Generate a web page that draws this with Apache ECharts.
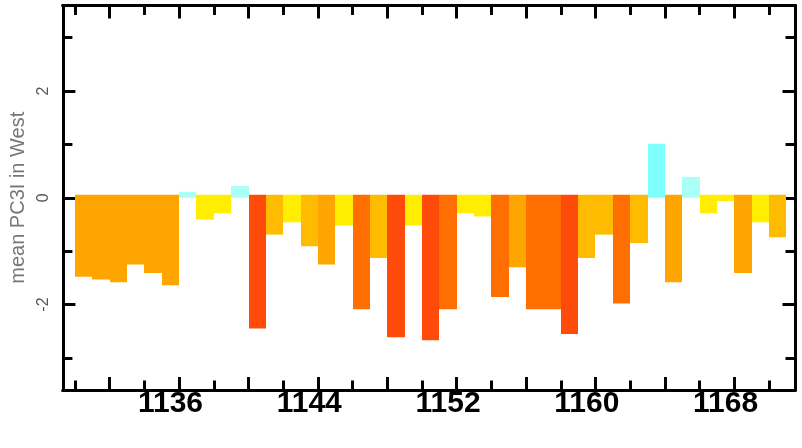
<!DOCTYPE html>
<html>
<head>
<meta charset="utf-8">
<script src="https://cdn.jsdelivr.net/npm/echarts@6/dist/echarts.min.js"></script>
<style>
  html, body { margin: 0; padding: 0; background: #fff; }
  #chart { width: 802px; height: 448px; }
</style>
</head>
<body>
<div id="chart"></div>
<script>
// years (one bar per year)
const years = [
  1131, 1132, 1133, 1134, 1135, 1136, 1137, 1138, 1139, 1140,
  1141, 1142, 1143, 1144, 1145, 1146, 1147, 1148, 1149, 1150,
  1151, 1152, 1153, 1154, 1155, 1156, 1157, 1158, 1159, 1160,
  1161, 1162, 1163, 1164, 1165, 1166, 1167, 1168, 1169, 1170, 1171
];
// mean PC3I in West
const values = [
  -1.48, -1.53, -1.58, -1.25, -1.41, -1.64, 0.11, -0.41, -0.29, 0.22,
  -2.45, -0.69, -0.46, -0.91, -1.25, -0.52, -2.09, -1.13, -2.61, -0.52,
  -2.67, -2.09, -0.29, -0.35, -1.86, -1.30, -2.09, -2.09, -2.55, -1.13,
  -0.69, -1.98, -0.85, 1.01, -1.58, 0.39, -0.29, -0.06, -1.41, -0.46, -0.74
];
// tick labels and tick positions
const xLabelYears = [1136, 1144, 1152, 1160, 1168];
const xLongTicks = [1132.5, 1136.5, 1140.5, 1144.5, 1148.5, 1152.5, 1156.5, 1160.5, 1164.5, 1168.5];
const xShortTicks = [1130.5, 1134.5, 1138.5, 1142.5, 1146.5, 1150.5, 1154.5, 1158.5, 1162.5, 1166.5, 1170.5];
const yLabelValues = [-2, 0, 2];
const yShortTicks = [-3, -1, 1, 3];

const chart = echarts.init(document.getElementById("chart"));

const X_MIN = 1129.8;
const X_MAX = 1172;
const Y_MIN = -3.6;
const Y_MAX = 3.6;

function xAxisOf(position, ticks, len, withLabel) {
  return {
    type: "value",
    position: position,
    min: X_MIN,
    max: X_MAX,
    axisLine: { show: true, onZero: false, lineStyle: { color: "#000", width: 3 } },
    axisTick: {
      show: true,
      inside: true,
      length: len,
      customValues: ticks,
      lineStyle: { color: "#000", width: 3 }
    },
    axisLabel: withLabel
      ? {
          show: true,
          customValues: xLabelYears,
          formatter: v => String(v),
          color: "#000",
          fontFamily: "Liberation Sans",
          fontWeight: "bold",
          fontSize: 30,
          margin: -1
        }
      : { show: false },
    splitLine: { show: false }
  };
}

function yAxisOf(position, ticks, len, withLabel) {
  let axis = {
    type: "value",
    position: position,
    min: Y_MIN,
    max: Y_MAX,
    axisLine: { show: true, onZero: false, lineStyle: { color: "#000", width: 3 } },
    axisTick: {
      show: true,
      inside: true,
      length: len,
      customValues: ticks,
      lineStyle: { color: "#000", width: 3 }
    },
    axisLabel: withLabel
      ? {
          show: true,
          customValues: yLabelValues,
          rotate: 90,
          color: "#555",
          fontFamily: "Liberation Sans",
          fontSize: 16,
          margin: 11
        }
      : { show: false },
    splitLine: { show: false }
  };
  if (withLabel) {
    axis.name = "mean PC3I in West";
    axis.nameLocation = "middle";
    axis.nameRotate = 90;
    axis.nameGap = 24;
    axis.nameTextStyle = { color: "#777", fontFamily: "Liberation Sans", fontSize: 20 };
  }
  return axis;
}

const option = {
  animation: false,
  backgroundColor: "#fff",
  grid: { left: 62, right: 7, top: 5.5, bottom: 58 },
  xAxis: [
    xAxisOf("bottom", xLongTicks, 13, true),
    xAxisOf("bottom", xShortTicks, 9.5, false),
    xAxisOf("top", xLongTicks, 13, false),
    xAxisOf("top", xShortTicks, 9.5, false)
  ],
  yAxis: [
    yAxisOf("left", yLabelValues, 12.5, true),
    yAxisOf("left", yShortTicks, 9.5, false),
    yAxisOf("right", yLabelValues, 12.5, false),
    yAxisOf("right", yShortTicks, 9.5, false)
  ],
  visualMap: {
    show: false,
    type: "piecewise",
    seriesIndex: 0,
    dimension: 1,
    pieces: [
      { gt: 0.6, color: "#80FFFF" },
      { gt: 0, lte: 0.6, color: "#AAFFF6" },
      { gt: -0.6, lte: 0, color: "#FFEE00" },
      { gt: -1.2, lte: -0.6, color: "#FFBB00" },
      { gt: -1.8, lte: -1.2, color: "#FFA500" },
      { gt: -2.4, lte: -1.8, color: "#FF6E00" },
      { lte: -2.4, color: "#FF4B0A" }
    ]
  },
  series: [
    {
      type: "custom",
      xAxisIndex: 0,
      yAxisIndex: 0,
      data: years.map((y, i) => [y, values[i]]),
      renderItem(params, api) {
        const year = api.value(0);
        const v = api.value(1);
        const a = api.coord([year - 0.5, 0]);
        const b = api.coord([year + 0.5, v]);
        const x0 = Math.round(a[0]);
        const x1 = Math.round(b[0]);
        // negative bars start a few px above the zero line, as in the source
        const base = v < 0 ? a[1] - 3 : a[1];
        return {
          type: "rect",
          shape: {
            x: x0,
            y: Math.min(base, b[1]),
            width: x1 - x0,
            height: Math.abs(b[1] - base)
          },
          style: { fill: api.visual("color") }
        };
      }
    }
  ]
};

chart.setOption(option);
</script>
</body>
</html>
